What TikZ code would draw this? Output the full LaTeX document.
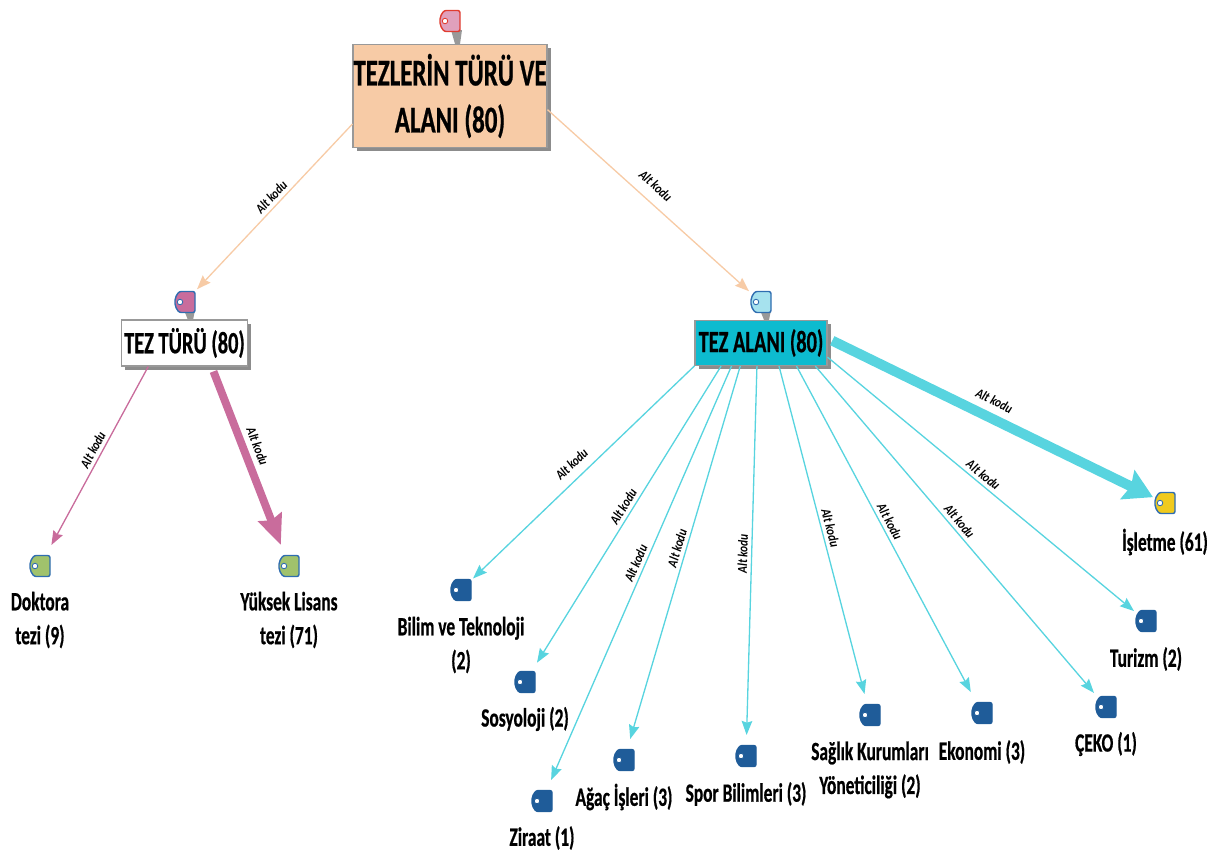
\documentclass[tikz,border=0pt]{standalone}
\usepackage{fontspec}
\usetikzlibrary{arrows.meta,shadows}
\newfontfamily\etiketfont[FakeStretch=0.66,FakeBold=0.6]{Carlito}
\newfontfamily\kodufont[FakeStretch=0.82]{Carlito}
\definecolor{koktop}{HTML}{F7CBA6}
\definecolor{pembe}{HTML}{C96C9C}
\definecolor{acikpembe}{HTML}{E0A0BC}
\definecolor{turkuaz}{HTML}{58D4DF}
\definecolor{acikmavi}{HTML}{A6E2EE}
\definecolor{alanmavi}{HTML}{0DBBCF}
\definecolor{etiketmavi}{HTML}{2F6DB0}
\definecolor{koyumavi}{HTML}{1F5C99}
\definecolor{kirmizi}{HTML}{E03C30}
\definecolor{yesil}{HTML}{A0C26C}
\definecolor{sari}{HTML}{F0CA1E}
\tikzset{
  ustkutu/.style={draw=black!40,line width=0.6pt,inner sep=0pt,align=center,
    general shadow={fill=black!45,shadow xshift=2pt,shadow yshift=-2pt}},
  yazi/.style={font=\etiketfont\bfseries\fontsize{15}{19.3}\selectfont,inner sep=0pt,align=center},
  altkodu/.style={font=\kodufont\bfseries\itshape\fontsize{7.8}{9}\selectfont,sloped,above=2pt,inner sep=0pt,black},
  etiketyer/.style={minimum width=0.48cm,minimum height=0.84cm,inner sep=0pt,outer sep=0pt},
  ince/.style={line width=0.75pt,-{Stealth[length=8pt,width=6pt,inset=1pt]}},
  sap/.style={fill=black!40},
}
% etiket: name, position, fill, border
\newcommand{\etiket}[4]{%
  \node[etiketyer] (#1) at (#2) {};
  \draw[draw=#4,fill=#3,line width=0.8pt,rounded corners=1.2pt]
    ([shift={(10,-10.5)}]#1.center) -- ([shift={(10,10.5)}]#1.center)
    -- ([shift={(-6,10.5)}]#1.center) -- ([shift={(-10,4)}]#1.center)
    -- ([shift={(-10,-4)}]#1.center) -- ([shift={(-6,-10.5)}]#1.center) -- cycle;
  \draw[draw=#4,fill=white,line width=0.5pt] ([xshift=-0.1cm]#1.center) circle (0.055cm);
}
\begin{document}
\begin{tikzpicture}[x=0.02cm,y=-0.02cm]
  \useasboundingbox (0,0) rectangle (1220,853);
  % ust kutular
  \fill[sap] (451,30) -- (462,30) -- (460,44) -- (455,44) -- cycle;
  \fill[sap] (184,310) -- (195,310) -- (193,320) -- (188,320) -- cycle;
  \fill[sap] (760,310) -- (771,310) -- (769,320) -- (764,320) -- cycle;
  \node[ustkutu,fill=koktop,minimum width=3.88cm,minimum height=2.06cm,
    font=\etiketfont\bfseries\fontsize{21.5}{26.7}\selectfont] (kok) at (450,96) {TEZLERİN TÜRÜ VE\\ALANI (80)};
  \node[ustkutu,fill=white,minimum width=2.52cm,minimum height=0.92cm,
    font=\etiketfont\bfseries\fontsize{17.6}{20}\selectfont] (turu) at (184.5,343) {TEZ TÜRÜ (80)};
  \node[ustkutu,fill=alanmavi,minimum width=2.64cm,minimum height=0.9cm,
    font=\etiketfont\bfseries\fontsize{17.6}{20}\selectfont] (alan) at (761,343) {TEZ ALANI (80)};
  % etiketler
  \etiket{kokt}{450,21}{acikpembe}{kirmizi}
  \etiket{turut}{185,302}{pembe}{etiketmavi}
  \etiket{alant}{761,302}{acikmavi}{etiketmavi}
  \etiket{doktorat}{40,566}{yesil}{etiketmavi}
  \etiket{yuksekt}{289,566}{yesil}{etiketmavi}
  \etiket{isletmet}{1165,503}{sari}{etiketmavi}
  \etiket{bilimt}{461,590}{koyumavi}{koyumavi}
  \etiket{sosyot}{525,682}{koyumavi}{koyumavi}
  \etiket{ziraatt}{542,801}{koyumavi}{koyumavi}
  \etiket{agact}{624,760}{koyumavi}{koyumavi}
  \etiket{sport}{746,756}{koyumavi}{koyumavi}
  \etiket{saglikt}{870,715}{koyumavi}{koyumavi}
  \etiket{ekot}{982,713}{koyumavi}{koyumavi}
  \etiket{cekot}{1106,707}{koyumavi}{koyumavi}
  \etiket{turizmt}{1146,621}{koyumavi}{koyumavi}
  % yazilar
  \node[yazi] (doktora) at (40,620) {Doktora\\tezi (9)};
  \node[yazi] (yuksek) at (289,620) {Yüksek Lisans\\tezi (71)};
  \node[yazi] (isletme) at (1165,542) {İşletme (61)};
  \node[yazi] (bilim) at (461,645) {Bilim ve Teknoloji\\(2)};
  \node[yazi] (sosyo) at (525,719) {Sosyoloji (2)};
  \node[yazi] (ziraat) at (542,838) {Ziraat (1)};
  \node[yazi] (agac) at (624,797) {Ağaç İşleri (3)};
  \node[yazi] (spor) at (746,794) {Spor Bilimleri (3)};
  \node[yazi] (saglik) at (870,770) {Sağlık Kurumları\\Yöneticiliği (2)};
  \node[yazi] (eko) at (982,752) {Ekonomi (3)};
  \node[yazi] (ceko) at (1106,744) {ÇEKO (1)};
  \node[yazi] (turizm) at (1146,659) {Turizm (2)};
  % baglantilar
  \draw[ince,koktop] (kok.196.5) -- node[altkodu,pos=.48] (k1) {Alt kodu} (turut);
  \draw[ince,koktop] (kok.-8) -- node[altkodu,pos=.484,above=4pt] (k2) {Alt kodu} (alant);
  \draw[ince,pembe] (turu.213) -- node[altkodu,pos=.49] (k3) {Alt kodu} (doktorat);
  \draw[pembe,line width=4.5pt,shorten <=3pt,-{Stealth[length=17pt,width=14pt,inset=2pt]}] (turu.-41.5)
    -- node[altkodu,pos=.475,above=1pt] (k4) {Alt kodu} (yuksekt);
  \draw[ince,turkuaz] (alan.199) -- node[altkodu,pos=.51,above=3pt] (k5) {Alt kodu} (bilimt);
  \draw[ince,turkuaz] (alan.-150.7) -- node[altkodu,pos=.49] (k6) {Alt kodu} (sosyot);
  \draw[ince,turkuaz] (alan.-142.5) -- node[altkodu,pos=.485] (k7) {Alt kodu} (ziraatt);
  \draw[ince,turkuaz] (alan.-132.4) -- node[altkodu,pos=.495] (k8) {Alt kodu} (agact);
  \draw[ince,turkuaz] (alan.-100) -- node[altkodu,pos=.51] (k9) {Alt kodu} (sport);
  \draw[ince,turkuaz] (alan.-52) -- node[altkodu,pos=.5] (k10) {Alt kodu} (saglikt);
  \draw[ince,turkuaz] (alan.-33) -- node[altkodu,pos=.49] (k11) {Alt kodu} (ekot);
  \draw[ince,turkuaz] (alan.-23) -- node[altkodu,pos=.493] (k12) {Alt kodu} (cekot);
  \draw[ince,turkuaz] (alan.-12.8) -- node[altkodu,pos=.49] (k13) {Alt kodu} (turizmt);
  \draw[turkuaz,line width=5.7pt,shorten <=3pt,-{Stealth[length=16pt,width=18pt,inset=2pt]}] (alan.4.3)
    -- node[altkodu,pos=.49,above=2pt] (k14) {Alt kodu} (isletmet);
\end{tikzpicture}
\end{document}
